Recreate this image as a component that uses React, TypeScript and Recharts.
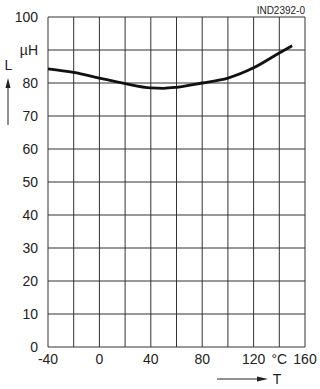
import { LineChart, Line, XAxis, YAxis, CartesianGrid } from 'recharts';

const temps = [-40, -20, 0, 20, 40, 50, 60, 80, 100, 120, 140, 150];
const inductance = [84.3, 83.2, 81.5, 79.8, 78.5, 78.4, 78.7, 80.0, 81.5, 84.6, 89.1, 91.3];

const xTicks = [-40, -20, 0, 20, 40, 60, 80, 100, 120, 140, 160];
const xLabels: Record<number, string> = { '-40': '-40', 0: '0', 40: '40', 80: '80', 120: '120', 140: '°C', 160: '160' };
const yTicks = [0, 10, 20, 30, 40, 50, 60, 70, 80, 90, 100];

const data = temps.map((t, i) => ({ t, l: inductance[i] }));

const FONT = '"Liberation Sans", Arial, sans-serif';

function XTick({ x, y, payload }: any) {
  const label = xLabels[payload.value];
  if (!label) return null;
  return (
    <text x={x} y={y + 9} textAnchor="middle" fontSize={14} fontFamily={FONT} fill="#222">
      {label}
    </text>
  );
}

function YTick({ x, y, payload }: any) {
  const label = payload.value === 90 ? 'µH' : String(payload.value);
  return (
    <text x={x - 2} y={y + 5} textAnchor="end" fontSize={14} fontFamily={FONT} fill="#222">
      {label}
    </text>
  );
}

export default function App() {
  return (
    <div style={{ position: 'absolute', left: 0, top: 0, width: 320, height: 389, background: '#fff' }}>
      <LineChart width={320} height={389} data={data} margin={{ top: 17, right: 15, bottom: 22, left: 0 }}>
        <CartesianGrid stroke="#333" strokeWidth={1} horizontalValues={yTicks} verticalValues={xTicks} />
        <XAxis
          dataKey="t"
          type="number"
          domain={[-40, 160]}
          ticks={xTicks}
          interval={0}
          height={20}
          axisLine={false}
          tickLine={false}
          tick={<XTick />}
        />
        <YAxis
          type="number"
          domain={[0, 100]}
          ticks={yTicks}
          interval={0}
          width={48}
          axisLine={false}
          tickLine={false}
          tick={<YTick />}
        />
        <Line
          type="monotone"
          dataKey="l"
          stroke="#111"
          strokeWidth={2.8}
          dot={false}
          isAnimationActive={false}
        />
      </LineChart>
      <svg width={320} height={389} style={{ position: 'absolute', left: 0, top: 0, pointerEvents: 'none' }}>
        <text x={305} y={14} textAnchor="end" fontSize={10} fontFamily={FONT} fill="#222">
          IND2392-0
        </text>
        <text x={8.5} y={70} textAnchor="middle" fontSize={14} fontFamily={FONT} fill="#222">
          L
        </text>
        <line x1={8} y1={86} x2={8} y2={125} stroke="#222" strokeWidth={1} />
        <polygon points="8,78 5.5,88 10.5,88" fill="#222" />
        <line x1={217} y1={379} x2={259} y2={379} stroke="#222" strokeWidth={1} />
        <polygon points="268,379 257,376.5 257,381.5" fill="#222" />
        <text x={277} y={384} textAnchor="middle" fontSize={14} fontFamily={FONT} fill="#222">
          T
        </text>
      </svg>
    </div>
  );
}
